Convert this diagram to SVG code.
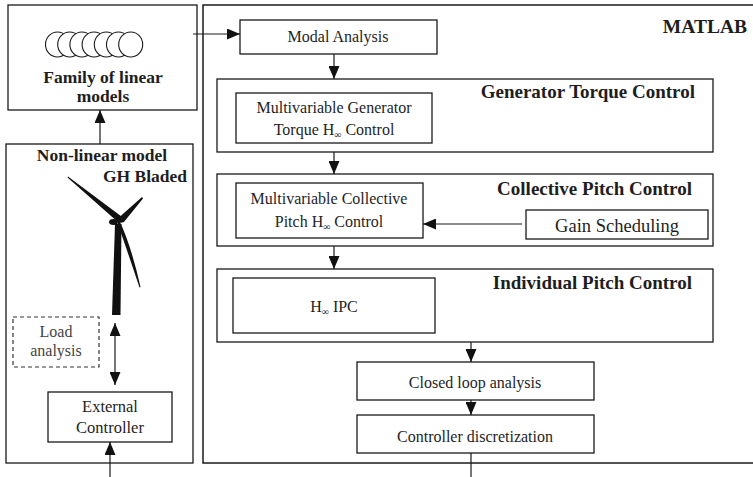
<svg xmlns="http://www.w3.org/2000/svg" width="753" height="477" viewBox="0 0 753 477">
  <defs>
    <marker id="arrow" viewBox="0 0 13 11" refX="13" refY="5.5" markerWidth="13" markerHeight="11" markerUnits="userSpaceOnUse" orient="auto-start-reverse">
      <path d="M0,0 L13,5.5 L0,11 Z" fill="#111"/>
    </marker>
  </defs>
  <style>
    .box { fill: #fff; stroke: #1a1a1a; stroke-width: 1.3; }
    .frame { fill: none; stroke: #1a1a1a; stroke-width: 1.5; }
    .dash { fill: none; stroke: #333; stroke-width: 1.2; stroke-dasharray: 4 3; }
    .conn { fill: none; stroke: #1a1a1a; stroke-width: 1.2; }
    .arr { marker-end: url(#arrow); }
    .t { font-family: "Liberation Serif", "Times New Roman", serif; fill: #1e1e1e; text-anchor: middle; }
    .reg { font-size: 16px; }
    .big { font-size: 18.5px; }
    .b { font-family: "Liberation Serif", "Times New Roman", serif; font-weight: bold; fill: #1e1e1e; }
    .b17 { font-size: 17.5px; }
    .b19 { font-size: 19px; text-anchor: end; }
    .sub { font-size: 10px; }
    .ring { fill: #fff; stroke: #1a1a1a; stroke-width: 1.1; }
    .grey { fill: #444; }
  </style>

  <!-- outer frames -->
  <rect id="matlab-frame" class="frame" x="203" y="5" width="560" height="458"/>
  <text class="b" x="747" y="33" font-size="19.5" text-anchor="end">MATLAB</text>

  <g id="family">
    <rect class="box" x="8" y="5" width="189" height="105"/>
    <ellipse class="ring" cx="57.5" cy="44.5" rx="12" ry="12.5"/>
    <ellipse class="ring" cx="69.7" cy="44.5" rx="12" ry="12.5"/>
    <ellipse class="ring" cx="81.9" cy="44.5" rx="12" ry="12.5"/>
    <ellipse class="ring" cx="94.1" cy="44.5" rx="12" ry="12.5"/>
    <ellipse class="ring" cx="106.3" cy="44.5" rx="12" ry="12.5"/>
    <ellipse class="ring" cx="118.5" cy="44.5" rx="12" ry="12.5"/>
    <ellipse class="ring" cx="130.7" cy="44.5" rx="12" ry="12.5"/>
    <text class="b b17" x="103" y="83" text-anchor="middle">Family of linear</text>
    <text class="b b17" x="103" y="102" text-anchor="middle">models</text>
  </g>

  <g id="nonlinear">
    <rect class="box" x="6" y="144" width="187" height="319"/>
    <text class="b b17" x="102" y="161" text-anchor="middle">Non-linear model</text>
    <text class="b b17" x="187" y="182" text-anchor="end">GH Bladed</text>
    <!-- wind turbine -->
    <g id="turbine" fill="#111">
      <polygon points="115,224 121.5,224 120.5,315 112,315"/>
      <path d="M121.5,216.5 L68,176.5 L67.5,177.5 L119,223 Z"/>
      <path d="M119.5,217 L142,197 L143,198.5 L123.5,222.5 Z"/>
      <path d="M119.5,221 Q131,245 140.5,287 L139.5,287.5 Q127,250 117.5,223 Z"/>
      <ellipse cx="113.5" cy="222" rx="4.5" ry="3"/>
      <circle cx="121" cy="220" r="2.8"/>
    </g>
  </g>

  <g id="load-analysis">
    <rect class="dash" x="13" y="317" width="86" height="50"/>
    <text class="t reg grey" x="56" y="337" font-size="17">Load</text>
    <text class="t reg grey" x="56" y="356" font-size="17">analysis</text>
  </g>

  <g id="external-controller">
    <rect class="box" x="48" y="392" width="124" height="50"/>
    <text class="t" x="110" y="412" font-size="16.5">External</text>
    <text class="t" x="110" y="433" font-size="16.5">Controller</text>
  </g>

  <g id="modal-analysis">
    <rect class="box" x="240" y="20" width="197" height="34"/>
    <text class="t reg" x="338" y="42">Modal Analysis</text>
  </g>

  <g id="generator-torque">
    <rect class="box" x="217" y="79" width="496" height="73"/>
    <text class="b b19" x="695" y="98">Generator Torque Control</text>
    <rect class="box" x="236" y="93" width="196" height="50"/>
    <text class="t reg" x="334" y="113">Multivariable Generator</text>
    <text class="t reg" x="334" y="135">Torque H<tspan class="sub" dy="3">∞</tspan><tspan dy="-3"> Control</tspan></text>
  </g>

  <g id="collective-pitch">
    <rect class="box" x="217" y="174" width="496" height="72"/>
    <text class="b b19" x="692" y="195">Collective Pitch Control</text>
    <rect class="box" x="236" y="183" width="187" height="55"/>
    <text class="t reg" x="329" y="204">Multivariable Collective</text>
    <text class="t reg" x="329" y="227">Pitch H<tspan class="sub" dy="3">∞</tspan><tspan dy="-3"> Control</tspan></text>
  </g>

  <g id="gain-scheduling">
    <rect class="box" x="526" y="210" width="182" height="29"/>
    <text class="t big" x="617" y="232">Gain Scheduling</text>
  </g>

  <g id="individual-pitch">
    <rect class="box" x="217" y="269" width="496" height="73"/>
    <text class="b b19" x="692" y="289">Individual Pitch Control</text>
    <rect class="box" x="233" y="278" width="202" height="55"/>
    <text class="t reg" x="334" y="312">H<tspan class="sub" dy="3">∞</tspan><tspan dy="-3"> IPC</tspan></text>
  </g>

  <g id="closed-loop">
    <rect class="box" x="357" y="362" width="237" height="38"/>
    <text class="t reg" x="475" y="388" font-size="16.5">Closed loop analysis</text>
  </g>

  <g id="discretization">
    <rect class="box" x="357" y="415" width="237" height="38"/>
    <text class="t reg" x="475" y="442" font-size="16.5">Controller discretization</text>
  </g>

  <g id="connectors">
    <line class="conn arr" x1="193" y1="34" x2="240" y2="34"/>
    <line class="conn arr" x1="334" y1="54" x2="334" y2="79"/>
    <line class="conn arr" x1="334" y1="152" x2="334" y2="174"/>
    <line class="conn arr" x1="522" y1="224" x2="423" y2="224"/>
    <line class="conn arr" x1="334" y1="246" x2="334" y2="269"/>
    <line class="conn arr" x1="471" y1="342" x2="471" y2="362"/>
    <line class="conn arr" x1="471" y1="400" x2="471" y2="415"/>
    <line class="conn" x1="471" y1="453" x2="471" y2="477"/>
    <line class="conn arr" x1="100" y1="144" x2="100" y2="110"/>
    <line class="conn arr" x1="115" y1="323" x2="115" y2="385" style="marker-start:url(#arrow)"/>
    <line class="conn arr" x1="110" y1="477" x2="110" y2="442"/>
  </g>
</svg>
